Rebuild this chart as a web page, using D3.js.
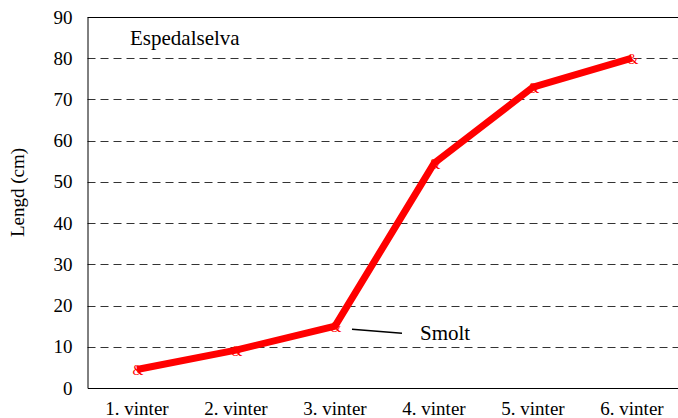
<!DOCTYPE html>
<html lang="no">
<head>
<meta charset="utf-8">
<title>Espedalselva</title>
<script src="https://cdn.jsdelivr.net/npm/d3@7"></script>
<style>
  body { margin: 0; background: #fff; }
  .axis path, .axis line { stroke: #000; }
</style>
</head>
<body>
<script>
// data
var winters = ["1. vinter", "2. vinter", "3. vinter", "4. vinter", "5. vinter", "6. vinter"];
var lengths = [4.5, 9.2, 15, 54.5, 73, 80];
var yTicks = [0, 10, 20, 30, 40, 50, 60, 70, 80, 90];
var gridTicks = [10, 20, 30, 40, 50, 60, 70, 80];

var w = 678, h = 418;
var plotLeft = 87.5, plotRight = 681.5, plotTop = 17, plotBottom = 388;

var svg = d3.select("body").append("svg")
  .attr("width", w)
  .attr("height", h);

var x = d3.scaleBand().domain(winters).range([plotLeft, plotRight]);
var y = d3.scaleLinear().domain([0, 90]).range([plotBottom, plotTop]);

// dashed gridlines
svg.append("g").selectAll("line")
  .data(gridTicks)
  .enter().append("line")
  .attr("x1", plotLeft).attr("x2", plotRight)
  .attr("y1", function(d) { return Math.round(y(d)) + 0.5; })
  .attr("y2", function(d) { return Math.round(y(d)) + 0.5; })
  .attr("stroke", "#333")
  .attr("stroke-dasharray", "8,5");

// top border
svg.append("line")
  .attr("x1", plotLeft).attr("x2", plotRight)
  .attr("y1", Math.round(y(90)) + 0.5).attr("y2", Math.round(y(90)) + 0.5)
  .attr("stroke", "#000");

// axes
var yAxis = d3.axisLeft(y).tickValues(yTicks).tickSize(0).tickPadding(15);
svg.append("g")
  .attr("class", "axis")
  .attr("transform", "translate(" + plotLeft + ",0)")
  .call(yAxis);

var xAxis = d3.axisBottom(x).tickSize(0).tickPadding(14);
svg.append("g")
  .attr("class", "axis")
  .attr("transform", "translate(0," + plotBottom + ")")
  .call(xAxis);

svg.selectAll(".axis").attr("font-size", 19);

// line
var line = d3.line()
  .x(function(d, i) { return x(winters[i]) + x.bandwidth() / 2; })
  .y(function(d) { return y(d); });

svg.append("path")
  .datum(lengths)
  .attr("d", line)
  .attr("fill", "none")
  .attr("stroke", "#ff0000")
  .attr("stroke-width", 7)
  .attr("stroke-linejoin", "miter");

// markers
svg.append("g").selectAll("text")
  .data(lengths)
  .enter().append("text")
  .attr("x", function(d, i) { return x(winters[i]) + x.bandwidth() / 2 + 1; })
  .attr("y", function(d) { return y(d) + 6; })
  .attr("text-anchor", "middle")
  .attr("font-size", 14)
  .style("fill", "#ff0000")
  .text("&");

// title
svg.append("text")
  .attr("x", 130)
  .attr("y", 45)
  .attr("font-size", 21)
  .text("Espedalselva");

// y label
svg.append("text")
  .attr("transform", "translate(24," + ((plotTop + plotBottom) / 2 - 10) + ") rotate(-90)")
  .attr("text-anchor", "middle")
  .attr("font-size", 19)
  .text("Lengd (cm)");

// smolt annotation
var sx = x(winters[2]) + x.bandwidth() / 2, sy = y(lengths[2]);
svg.append("line")
  .attr("x1", sx + 17).attr("y1", sy + 3)
  .attr("x2", sx + 67).attr("y2", sy + 7)
  .attr("stroke", "#000")
  .attr("stroke-width", 1.5);

svg.append("text")
  .attr("x", sx + 85)
  .attr("y", sy + 14)
  .attr("font-size", 21)
  .text("Smolt");

// serif face on every text
svg.selectAll("text").style("font-family", "'Liberation Serif', serif");
</script>
</body>
</html>
